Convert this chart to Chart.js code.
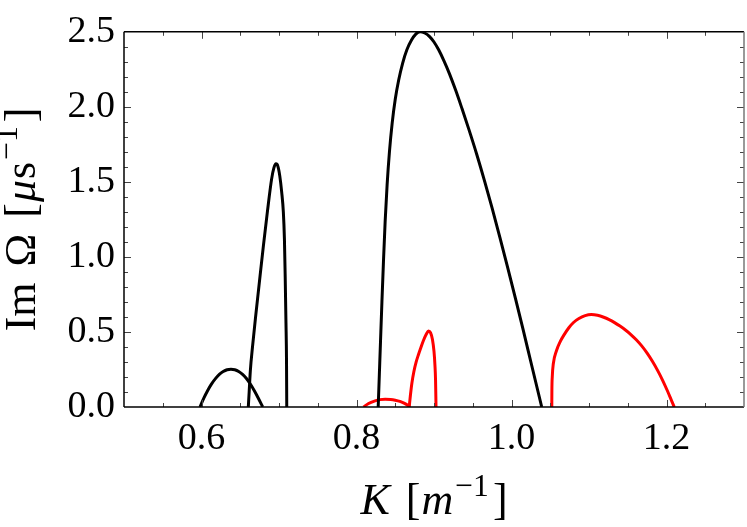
<!DOCTYPE html>
<html>
<head>
<meta charset="utf-8">
<script src="https://cdn.jsdelivr.net/npm/chart.js@4.4.0/dist/chart.umd.min.js"></script>
<style>
  html, body { margin: 0; padding: 0; background: #fff; }
  #wrap { width: 747px; height: 527px; }
</style>
</head>
<body>
<div id="wrap"><canvas id="growthChart"></canvas></div>
<script>
// Im Omega vs K. Black = one family of branches, red = the other.
const blackA_K  = [0.598, 0.603, 0.608, 0.613, 0.618, 0.623, 0.628, 0.633, 0.638, 0.643, 0.648, 0.653, 0.658, 0.663, 0.668, 0.673, 0.679];
const blackA_Im = [0.000, 0.059, 0.110, 0.154, 0.189, 0.217, 0.236, 0.248, 0.252, 0.248, 0.237, 0.218, 0.190, 0.153, 0.110, 0.062, 0.000];

const blackB_K  = [0.6604, 0.6615, 0.6630, 0.6660, 0.6700, 0.6755, 0.6800, 0.6850, 0.6905, 0.6935, 0.6961, 0.6985, 0.7010, 0.7035, 0.7056, 0.7070, 0.7080, 0.7090, 0.7097, 0.7100];
const blackB_Im = [0.000, 0.100, 0.240, 0.410, 0.610, 0.870, 1.080, 1.300, 1.520, 1.595, 1.620, 1.605, 1.540, 1.430, 1.300, 1.120, 0.868, 0.560, 0.300, 0.000];

const blackC_K  = [0.8280, 0.8295, 0.8310, 0.8328, 0.8348, 0.8370, 0.8395, 0.8425, 0.8460, 0.8500, 0.8545, 0.8595, 0.8650, 0.8710, 0.8765, 0.8820,
                   0.8880, 0.8940, 0.9000, 0.9060, 0.9130, 0.9200, 0.9280, 0.9360, 0.9450, 0.9550, 0.9650, 0.9750, 0.9850, 0.9950, 1.0050, 1.0150, 1.0250, 1.0390];
const blackC_Im = [0.000, 0.220, 0.440, 0.700, 0.970, 1.240, 1.480, 1.700, 1.890, 2.050, 2.180, 2.290, 2.380, 2.445, 2.485, 2.500,
                   2.492, 2.470, 2.432, 2.380, 2.305, 2.220, 2.110, 1.990, 1.850, 1.686, 1.510, 1.325, 1.130, 0.930, 0.725, 0.515, 0.300, 0.000];

const redA_K  = [0.809, 0.815, 0.824, 0.830, 0.837, 0.844, 0.850, 0.856, 0.862, 0.867, 0.869];
const redA_Im = [0.000, 0.022, 0.041, 0.049, 0.052, 0.050, 0.045, 0.037, 0.024, 0.008, 0.000];

const redB_K  = [0.8680, 0.8695, 0.8715, 0.8740, 0.8770, 0.8800, 0.8830, 0.8865, 0.8900, 0.8930, 0.8955, 0.8980, 0.9000, 0.9012, 0.9020, 0.9026];
const redB_Im = [0.000, 0.075, 0.160, 0.235, 0.300, 0.350, 0.395, 0.445, 0.485, 0.506, 0.495, 0.450, 0.370, 0.280, 0.180, 0.000];

const redC_K  = [1.0520, 1.0521, 1.0526, 1.0540, 1.0580, 1.0630, 1.0680, 1.0740, 1.0800, 1.0870, 1.0950, 1.1030, 1.1110, 1.1190, 1.1260, 1.1330,
                 1.1400, 1.1470, 1.1540, 1.1610, 1.1680, 1.1750, 1.1820, 1.1890, 1.1950, 1.2010, 1.2065, 1.2100];
const redC_Im = [0.000, 0.100, 0.200, 0.290, 0.375, 0.437, 0.482, 0.528, 0.563, 0.590, 0.609, 0.616, 0.611, 0.598, 0.582, 0.562,
                 0.539, 0.513, 0.483, 0.448, 0.407, 0.359, 0.303, 0.239, 0.178, 0.110, 0.043, 0.000];

// axis ticks
const xTickValues = [0.6, 0.8, 1.0, 1.2];
const yTickValues = [0.0, 0.5, 1.0, 1.5, 2.0, 2.5];

const SERIF = '"Liberation Serif", "Times New Roman", serif';

function pairs(ks, ims) {
    return ks.map((k, i) => ({ x: k, y: ims[i] }));
}

function branch(ks, ims, color) {
    return {
        data: pairs(ks, ims),
        borderColor: color,
        borderWidth: 3,
        pointRadius: 0,
        fill: false,
        cubicInterpolationMode: 'monotone'
    };
}

// text made of pieces (italic / superscript), measured then drawn left to right
function richWidth(ctx, parts, size) {
    let w = 0;
    parts.forEach(p => {
        const s = p.sup ? size * 0.72 : size;
        ctx.font = (p.italic ? 'italic ' : '') + s + 'px ' + SERIF;
        w += ctx.measureText(p.t).width + (p.gap || 0);
    });
    return w;
}

function richDraw(ctx, parts, size, x, y) {
    parts.forEach(p => {
        const s = p.sup ? size * 0.72 : size;
        ctx.font = (p.italic ? 'italic ' : '') + s + 'px ' + SERIF;
        ctx.fillText(p.t, x, p.sup ? y - size * 0.4 : y);
        x += ctx.measureText(p.t).width + (p.gap || 0);
    });
}

const xTitle = [
    { t: 'K', italic: true, gap: 5 },
    { t: ' [', gap: 1 },
    { t: 'm', italic: true, gap: 2 },
    { t: '\u22121', sup: true, gap: 4 },
    { t: ']' }
];
const yTitle = [
    { t: 'Im ', gap: 5 },
    { t: '\u03A9 ', gap: 5 },
    { t: '[', gap: 1 },
    { t: '\u03BC', italic: true, gap: 1 },
    { t: 's', gap: 2 },
    { t: '\u22121', sup: true, gap: 4 },
    { t: ']' }
];

// Mathematica style frame: box with inward major/minor ticks, plus the axis titles
const framePlugin = {
    id: 'frame',
    afterDraw(chart) {
        const { ctx, chartArea: a, scales } = chart;
        const xs = scales.x, ys = scales.y;
        ctx.save();

        ctx.lineWidth = 1;
        ctx.strokeStyle = '#444';
        const tick = (x1, y1, x2, y2) => {
            ctx.beginPath();
            ctx.moveTo(x1, y1);
            ctx.lineTo(x2, y2);
            ctx.stroke();
        };
        // x ticks every 0.05, long ones at labelled values
        for (let v = 0.55; v < 1.3; v += 0.05) {
            const px = Math.round(xs.getPixelForValue(v)) + 0.5;
            const major = xTickValues.some(t => Math.abs(t - v) < 1e-6);
            const len = major ? 7 : 4;
            tick(px, a.bottom, px, a.bottom - len);
            tick(px, a.top, px, a.top + len);
        }
        // y ticks every 0.1
        for (let v = 0.1; v < 2.5; v += 0.1) {
            const py = Math.round(ys.getPixelForValue(v)) + 0.5;
            const major = yTickValues.some(t => Math.abs(t - v) < 1e-6);
            const len = major ? 7 : 4;
            tick(a.left, py, a.left + len, py);
            tick(a.right, py, a.right - len, py);
        }

        ctx.lineWidth = 1.5;
        ctx.strokeStyle = '#000';
        tick(a.left, a.top, a.left, a.bottom);
        tick(a.left, a.bottom, a.right, a.bottom);
        tick(a.left, a.top, a.right, a.top);
        ctx.strokeStyle = '#777';
        tick(a.right, a.top, a.right, a.bottom);

        // axis titles
        ctx.fillStyle = '#000';
        ctx.textBaseline = 'alphabetic';
        ctx.textAlign = 'left';
        const size = 44;
        const wx = richWidth(ctx, xTitle, size);
        richDraw(ctx, xTitle, size, (a.left + a.right) / 2 - wx / 2, 514);

        const wy = richWidth(ctx, yTitle, size);
        ctx.translate(35, (a.top + a.bottom) / 2);
        ctx.rotate(-Math.PI / 2);
        richDraw(ctx, yTitle, size, -wy / 2, 0);
        ctx.restore();
    }
};

const ctx = document.getElementById('growthChart').getContext('2d');
const growthChart = new Chart(ctx, {
    type: 'line',
    data: {
        datasets: [
            branch(blackA_K, blackA_Im, '#000000'),
            branch(blackB_K, blackB_Im, '#000000'),
            branch(blackC_K, blackC_Im, '#000000'),
            branch(redA_K, redA_Im, '#ff0000'),
            branch(redB_K, redB_Im, '#ff0000'),
            branch(redC_K, redC_Im, '#ff0000')
        ]
    },
    options: {
        responsive: true,
        maintainAspectRatio: false,
        animation: false,
        layout: { padding: { top: 23, right: 3, left: 0, bottom: 0 } },
        plugins: {
            legend: { display: false },
            tooltip: { enabled: false }
        },
        scales: {
            x: {
                type: 'linear',
                min: 0.5,
                max: 1.3,
                grid: { display: false, drawTicks: false },
                border: { display: false },
                afterBuildTicks: scale => { scale.ticks = xTickValues.map(v => ({ value: v })); },
                afterFit: scale => { scale.height = 120; },
                ticks: {
                    padding: 9,
                    maxRotation: 0,
                    color: '#000',
                    font: { family: SERIF, size: 38 },
                    callback: v => v.toFixed(1)
                }
            },
            y: {
                type: 'linear',
                min: 0,
                max: 2.5,
                grid: { display: false, drawTicks: false },
                border: { display: false },
                afterBuildTicks: scale => { scale.ticks = yTickValues.map(v => ({ value: v })); },
                afterFit: scale => { scale.width = 124; },
                ticks: {
                    padding: 9,
                    color: '#000',
                    font: { family: SERIF, size: 38 },
                    callback: v => v.toFixed(1)
                }
            }
        }
    },
    plugins: [framePlugin]
});
</script>
</body>
</html>
